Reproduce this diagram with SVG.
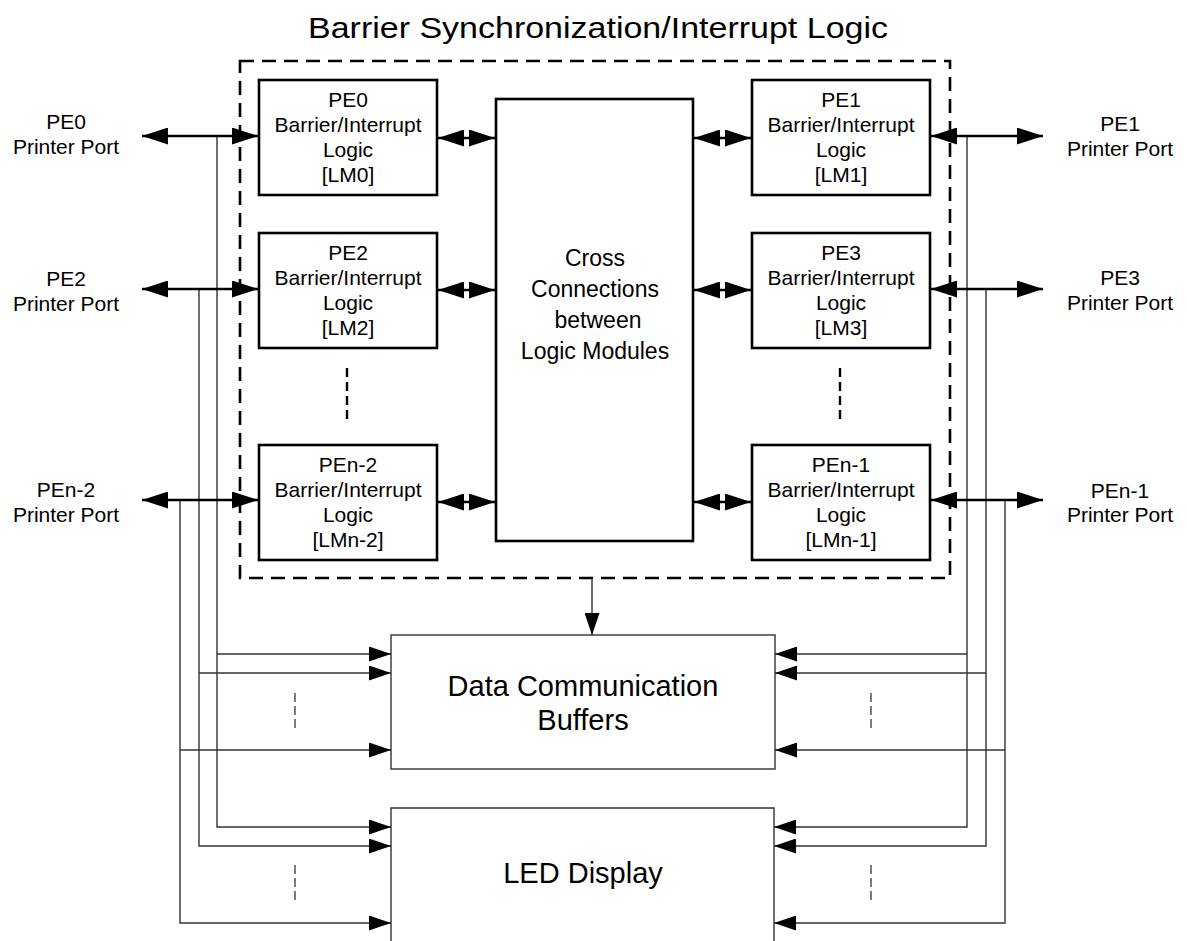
<svg xmlns="http://www.w3.org/2000/svg" width="1187" height="941" viewBox="0 0 1187 941">
<style>
text{font-family:"Liberation Sans",Arial,sans-serif;fill:#000;text-anchor:middle}
.lbl{font-size:21px}
.big{font-size:23px}
.huge{font-size:29px}
.lm{fill:#fff;stroke:#000;stroke-width:2.6}
.thinbox{fill:#fff;stroke:#333;stroke-width:1.4}
.thick{fill:none;stroke:#000;stroke-width:2.6}
.thin{fill:none;stroke:#333;stroke-width:1.4}
.dash{fill:none;stroke:#000;stroke-width:2.6;stroke-dasharray:14 8}
.col{fill:none;stroke:#000;stroke-width:2.4;stroke-dasharray:9 5}
.tick{fill:none;stroke:#444;stroke-width:1.4;stroke-dasharray:9 4}
</style>
<defs>
<marker id="bigA" markerUnits="userSpaceOnUse" viewBox="0 0 26 17" markerWidth="26" markerHeight="17" refX="26" refY="8.5" orient="auto-start-reverse"><path d="M0,0 L26,8.5 L0,17 z" fill="#000"/></marker>
<marker id="smA" markerUnits="userSpaceOnUse" viewBox="0 0 22 15" markerWidth="22" markerHeight="15" refX="22" refY="7.5" orient="auto-start-reverse"><path d="M0,0 L22,7.5 L0,15 z" fill="#000"/></marker>
</defs>
<rect width="1187" height="941" fill="#fff"/>
<text x="598" y="38" style="font-size:30px" textLength="580" lengthAdjust="spacingAndGlyphs">Barrier Synchronization/Interrupt Logic</text>
<g id="barrier-group"><rect x="240" y="61" width="710" height="517" class="dash"/></g>
<g id="lm0"><rect x="259" y="80" width="178" height="115" class="lm"/><text class="lbl" x="348" y="107">PE0</text><text class="lbl" x="348" y="132">Barrier/Interrupt</text><text class="lbl" x="348" y="157">Logic</text><text class="lbl" x="348" y="182">[LM0]</text></g>
<g id="lm2"><rect x="259" y="233" width="178" height="115" class="lm"/><text class="lbl" x="348" y="260">PE2</text><text class="lbl" x="348" y="285">Barrier/Interrupt</text><text class="lbl" x="348" y="310">Logic</text><text class="lbl" x="348" y="335">[LM2]</text></g>
<g id="lmn2"><rect x="259" y="445" width="178" height="115" class="lm"/><text class="lbl" x="348" y="472">PEn-2</text><text class="lbl" x="348" y="497">Barrier/Interrupt</text><text class="lbl" x="348" y="522">Logic</text><text class="lbl" x="348" y="547">[LMn-2]</text></g>
<g id="lm1"><rect x="752" y="80" width="178" height="115" class="lm"/><text class="lbl" x="841" y="107">PE1</text><text class="lbl" x="841" y="132">Barrier/Interrupt</text><text class="lbl" x="841" y="157">Logic</text><text class="lbl" x="841" y="182">[LM1]</text></g>
<g id="lm3"><rect x="752" y="233" width="178" height="115" class="lm"/><text class="lbl" x="841" y="260">PE3</text><text class="lbl" x="841" y="285">Barrier/Interrupt</text><text class="lbl" x="841" y="310">Logic</text><text class="lbl" x="841" y="335">[LM3]</text></g>
<g id="lmn1"><rect x="752" y="445" width="178" height="115" class="lm"/><text class="lbl" x="841" y="472">PEn-1</text><text class="lbl" x="841" y="497">Barrier/Interrupt</text><text class="lbl" x="841" y="522">Logic</text><text class="lbl" x="841" y="547">[LMn-1]</text></g>
<g id="cross"><rect x="496" y="99" width="197" height="442" class="lm"/><text class="big" x="595" y="266">Cross</text><text class="big" x="595" y="297">Connections</text><text class="big" x="598" y="328">between</text><text class="big" x="595" y="359">Logic Modules</text></g>
<g id="buffers"><rect x="391" y="635" width="384" height="134" class="thinbox"/><text class="huge" x="583" y="696">Data Communication</text><text class="huge" x="583" y="730">Buffers</text></g>
<g id="led"><path d="M391,945 V808 H774 V945" class="thinbox"/><text class="huge" x="583" y="883">LED Display</text></g>
<g id="port-labels">
<text class="lbl" x="66" y="129">PE0</text><text class="lbl" x="66" y="154">Printer Port</text>
<text class="lbl" x="66" y="286">PE2</text><text class="lbl" x="66" y="311">Printer Port</text>
<text class="lbl" x="66" y="497">PEn-2</text><text class="lbl" x="66" y="522">Printer Port</text>
<text class="lbl" x="1120" y="131">PE1</text><text class="lbl" x="1120" y="156">Printer Port</text>
<text class="lbl" x="1120" y="285">PE3</text><text class="lbl" x="1120" y="310">Printer Port</text>
<text class="lbl" x="1120" y="498">PEn-1</text><text class="lbl" x="1120" y="522">Printer Port</text>
</g>
<g id="connectors">
<path class="col" d="M347,368 V420 M840,368 V420"/>
<path class="tick" d="M295,693 V731 M295,865 V903 M871,693 V731 M871,865 V903"/>
<g class="thin">
<path d="M217,136 V827 H391" marker-end="url(#smA)"/>
<path d="M217,654 H391" marker-end="url(#smA)"/>
<path d="M199,289 V846 H391" marker-end="url(#smA)"/>
<path d="M199,673 H391" marker-end="url(#smA)"/>
<path d="M180,500 V923 H391" marker-end="url(#smA)"/>
<path d="M180,750 H391" marker-end="url(#smA)"/>
<path d="M967,136 V827 H774" marker-end="url(#smA)"/>
<path d="M967,654 H775" marker-end="url(#smA)"/>
<path d="M986,289 V846 H774" marker-end="url(#smA)"/>
<path d="M986,673 H775" marker-end="url(#smA)"/>
<path d="M1005,500 V923 H774" marker-end="url(#smA)"/>
<path d="M1005,750 H775" marker-end="url(#smA)"/>
<path d="M592,578 V635" marker-end="url(#smA)"/>
</g>
<g class="thick">
<path d="M142,136 H258" marker-start="url(#bigA)" marker-end="url(#bigA)"/>
<path d="M142,289 H258" marker-start="url(#bigA)" marker-end="url(#bigA)"/>
<path d="M142,500 H258" marker-start="url(#bigA)" marker-end="url(#bigA)"/>
<path d="M931,136 H1043" marker-start="url(#bigA)" marker-end="url(#bigA)"/>
<path d="M931,289 H1043" marker-start="url(#bigA)" marker-end="url(#bigA)"/>
<path d="M931,500 H1043" marker-start="url(#bigA)" marker-end="url(#bigA)"/>
<path d="M438,138 H495" marker-start="url(#bigA)" marker-end="url(#bigA)"/>
<path d="M438,290 H495" marker-start="url(#bigA)" marker-end="url(#bigA)"/>
<path d="M438,502 H495" marker-start="url(#bigA)" marker-end="url(#bigA)"/>
<path d="M694,138 H751" marker-start="url(#bigA)" marker-end="url(#bigA)"/>
<path d="M694,290 H751" marker-start="url(#bigA)" marker-end="url(#bigA)"/>
<path d="M694,502 H751" marker-start="url(#bigA)" marker-end="url(#bigA)"/>
</g>
</g>
</svg>
